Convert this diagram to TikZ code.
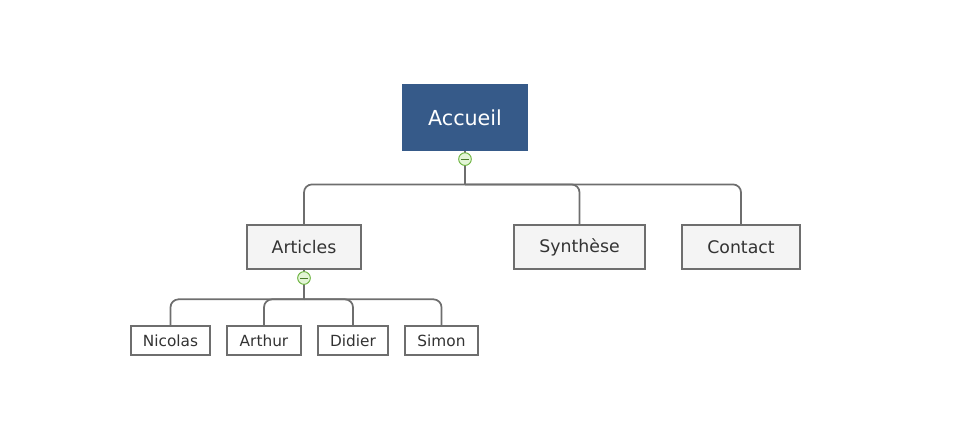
\documentclass[tikz,border=0pt]{standalone}
\usepackage{fontspec}
\setmainfont{DejaVu Sans}
\usepackage{tikz}
\usetikzlibrary{arrows.meta}

\definecolor{bleuracine}{HTML}{365A89}
\definecolor{grisbord}{HTML}{6E6E6E}
\definecolor{grisfond}{HTML}{F4F4F4}
\definecolor{gristexte}{HTML}{333333}
\definecolor{vertpli}{HTML}{6CB33F}
\definecolor{vertfond}{HTML}{E3F5D6}

\tikzset{
  racine/.style = {fill=bleuracine, text=white, font=\fontsize{15.5}{18}\selectfont,
                   minimum width=94.5pt, minimum height=50pt, inner sep=0pt},
  page/.style   = {draw=grisbord, line width=1.5pt, fill=grisfond, text=gristexte,
                   font=\fontsize{13}{16}\selectfont, minimum height=33pt, inner sep=0pt},
  auteur/.style = {draw=grisbord, line width=1.3pt, fill=white, text=gristexte,
                   font=\fontsize{11.5}{14}\selectfont, minimum height=21.5pt, inner sep=0pt},
  lien/.style   = {draw=grisbord, line width=1.3pt, rounded corners=6pt},
  pli/.style    = {circle, draw=vertpli, fill=vertfond, line width=0.7pt,
                   minimum size=9.5pt, inner sep=0pt},
}

\begin{document}
\begin{tikzpicture}[x=0.75pt, y=-0.75pt]
    \useasboundingbox (0,0) rectangle (966,448);
    % Definizione dei nodi
    \node[racine] (accueil) at (465,117.5) {Accueil};
    \node[page, minimum width=85.5pt] (articles) at (304,247) {Articles};
    \node[page, minimum width=98pt]   (synthese) at (579.5,247) {Synthèse};
    \node[page, minimum width=88.5pt] (contact)  at (741,247) {Contact};
    \node[auteur, minimum width=59pt]   (nicolas) at (170.5,340.5) {Nicolas};
    \node[auteur, minimum width=55.5pt] (arthur)  at (264,340.5) {Arthur};
    \node[auteur, minimum width=52.5pt] (didier)  at (353,340.5) {Didier};
    \node[auteur, minimum width=55pt]   (simon)   at (441.5,340.5) {Simon};

    % Punti di diramazione
    \coordinate (nodo-accueil) at ([yshift=-25pt]accueil.south);
    \coordinate (nodo-articles) at ([yshift=-22pt]articles.south);

    % Collegamenti
    \draw[lien, line width=1.8pt] (accueil.south) -- (nodo-accueil);
    \foreach \f in {articles, synthese, contact}
      \draw[lien] (nodo-accueil) -| (\f.north);
    \draw[lien] (articles.south) -- (nodo-articles);
    \foreach \f in {nicolas, arthur, didier, simon}
      \draw[lien] (nodo-articles) -| (\f.north);

    % Pulsanti di chiusura
    \foreach \p in {accueil, articles} {
      \node[pli] (pli-\p) at ([yshift=-6pt]\p.south) {};
      \draw[vertpli!70!black, line width=0.7pt] ([xshift=-2.8pt]pli-\p.center) -- ([xshift=2.8pt]pli-\p.center);
    }
\end{tikzpicture}
\end{document}
